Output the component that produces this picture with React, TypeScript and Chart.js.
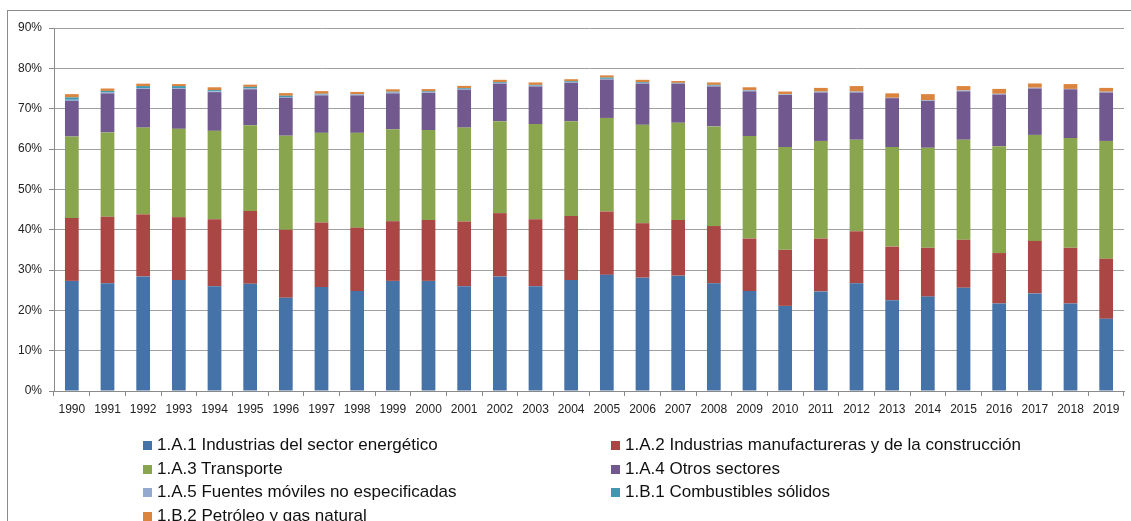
import React, { useEffect, useRef } from "react";
import { Chart, registerables } from "chart.js";

Chart.register(...registerables);

const years = [
  "1990", "1991", "1992", "1993", "1994", "1995", "1996", "1997", "1998", "1999",
  "2000", "2001", "2002", "2003", "2004", "2005", "2006", "2007", "2008", "2009",
  "2010", "2011", "2012", "2013", "2014", "2015", "2016", "2017", "2018", "2019",
];

const seriesLabels = [
  "1.A.1 Industrias del sector energético",
  "1.A.2 Industrias manufactureras y de la construcción",
  "1.A.3 Transporte",
  "1.A.4 Otros sectores",
  "1.A.5 Fuentes móviles no especificadas",
  "1.B.1 Combustibles sólidos",
  "1.B.2 Petróleo y gas natural",
];

const seriesColors = ["#4572A7", "#AA4643", "#89A54E", "#71588F", "#93A9CF", "#4198AF", "#DB843D"];

const a1 = [27.3, 26.7, 28.4, 27.5, 26.0, 26.6, 23.1, 25.8, 24.8, 27.3, 27.3, 26.0, 28.4, 26.0, 27.5, 28.8, 28.1, 28.6, 26.7, 24.8, 21.1, 24.7, 26.7, 22.5, 23.4, 25.6, 21.7, 24.2, 21.7, 17.9];
const a2 = [15.6, 16.5, 15.4, 15.6, 16.6, 18.0, 16.9, 16.0, 15.7, 14.8, 15.1, 16.0, 15.7, 16.6, 15.9, 15.7, 13.5, 13.8, 14.2, 13.0, 13.9, 13.1, 12.9, 13.3, 12.1, 11.9, 12.5, 13.0, 13.8, 14.9];
const a3 = [20.2, 20.9, 21.5, 21.9, 21.9, 21.3, 23.3, 22.2, 23.5, 22.8, 22.3, 23.3, 22.8, 23.6, 23.5, 23.2, 24.4, 24.1, 24.7, 25.4, 25.5, 24.2, 22.7, 24.7, 24.8, 24.8, 26.5, 26.3, 27.2, 29.2];
const a4 = [8.8, 9.7, 9.6, 9.9, 9.6, 8.9, 9.4, 9.3, 9.3, 8.9, 9.2, 9.4, 9.3, 9.3, 9.5, 9.5, 10.2, 9.7, 9.9, 11.1, 12.9, 12.0, 11.7, 12.1, 11.6, 12.0, 12.8, 11.5, 12.1, 12.0];
const a5 = [0.3, 0.2, 0.2, 0.2, 0.2, 0.2, 0.2, 0.2, 0.2, 0.2, 0.2, 0.2, 0.2, 0.2, 0.2, 0.2, 0.2, 0.1, 0.2, 0.2, 0.15, 0.2, 0.2, 0.1, 0.2, 0.2, 0.2, 0.2, 0.1, 0.2];
const b1 = [0.6, 0.4, 0.5, 0.5, 0.3, 0.4, 0.3, 0.2, 0.1, 0.2, 0.2, 0.2, 0.2, 0.2, 0.2, 0.3, 0.2, 0.1, 0.2, 0.1, 0.05, 0.05, 0.05, 0, 0, 0.05, 0, 0, 0, 0];
const b2 = [0.8, 0.6, 0.6, 0.5, 0.7, 0.55, 0.65, 0.65, 0.55, 0.6, 0.55, 0.55, 0.55, 0.6, 0.5, 0.55, 0.55, 0.45, 0.6, 0.7, 0.65, 0.9, 1.35, 1.1, 1.5, 1.05, 1.2, 1.05, 1.2, 0.95];

const seriesValues = [a1, a2, a3, a4, a5, b1, b2];

const yMax = 90;
const yStep = 10;

// legend layout: [column, row] for each series
const legendCells = [
  [0, 0], [1, 0], [0, 1], [1, 1], [0, 2], [1, 2], [0, 3],
];

const FONT = "'Liberation Sans', Arial, sans-serif";

export default function App() {
  const ref = useRef<HTMLCanvasElement>(null);

  useEffect(() => {
    if (!ref.current) return;
    const chart = new Chart(ref.current, {
      type: "bar",
      data: {
        labels: years,
        datasets: seriesValues.map((vals, i) => ({
          label: seriesLabels[i],
          data: vals,
          backgroundColor: seriesColors[i],
          borderWidth: 0,
          categoryPercentage: 1,
          barPercentage: 0.385,
        })),
      },
      options: {
        animation: false,
        responsive: true,
        maintainAspectRatio: false,
        layout: { padding: { left: 8, right: 7, top: 28, bottom: 100 } },
        plugins: {
          legend: { display: false },
          tooltip: { enabled: false },
        },
        scales: {
          x: {
            stacked: true,
            afterFit: (s: any) => { s.height = 30; },
            border: { display: true, color: "#8a8a8a", width: 1 },
            grid: {
              display: true,
              offset: true,
              drawOnChartArea: false,
              drawTicks: true,
              tickLength: 5,
              color: "#8a8a8a",
            },
            ticks: {
              autoSkip: false,
              maxRotation: 0,
              minRotation: 0,
              padding: 6,
              color: "#222",
              font: { family: FONT, size: 12 },
            },
          },
          y: {
            stacked: true,
            min: 0,
            max: yMax,
            afterFit: (s: any) => { s.width = 46; },
            border: { display: true, color: "#8a8a8a", width: 1 },
            grid: {
              color: "#a0a0a0",
              lineWidth: 1,
              drawTicks: true,
              tickLength: 5,
              tickColor: "#8a8a8a",
            },
            ticks: {
              stepSize: yStep,
              padding: 7,
              color: "#222",
              font: { family: FONT, size: 12 },
              callback: (v: any) => `${v}%`,
            },
          },
        },
      },
    });
    return () => chart.destroy();
  }, []);

  const colX = [143, 611];
  const rowY = [445, 469, 492, 516];

  return (
    <div style={{ position: "fixed", left: 0, top: 0, width: 1131, height: 521, overflow: "hidden", background: "#fff" }}>
      <div style={{ position: "absolute", left: 7, top: 10, width: 1140, height: 540, border: "1px solid #8c8c8c", boxSizing: "border-box" }} />
      <div style={{ position: "absolute", left: 0, top: 0, width: 1131, height: 521 }}>
        <canvas ref={ref} />
      </div>
      {seriesLabels.map((lab, i) => {
        const [c, r] = legendCells[i];
        return (
          <div
            key={lab}
            style={{
              position: "absolute",
              left: colX[c],
              top: rowY[r] - 10,
              height: 20,
              display: "flex",
              alignItems: "center",
              whiteSpace: "nowrap",
              fontFamily: FONT,
              fontSize: 17,
              color: "#111",
            }}
          >
            <span style={{ display: "inline-block", width: 9, height: 9, background: seriesColors[i], marginRight: 5 }} />
            <span>{lab}</span>
          </div>
        );
      })}
    </div>
  );
}
